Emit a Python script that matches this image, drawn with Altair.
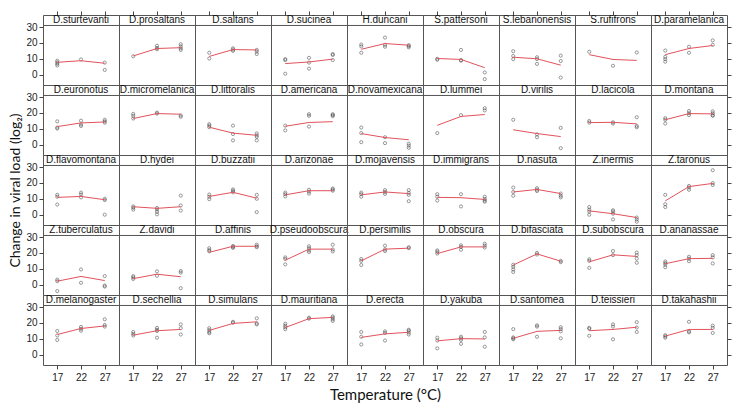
import altair as alt
import pandas as pd

species = ["D.sturtevanti", "D.prosaltans", "D.saltans", "D.sucinea", "H.duncani", "S.pattersoni", "S.lebanonensis", "S.rufifrons", "D.paramelanica",
           "D.euronotus", "D.micromelanica", "D.littoralis", "D.americana", "D.novamexicana", "D.lummei", "D.virilis", "D.lacicola", "D.montana",
           "D.flavomontana", "D.hydei", "D.buzzatii", "D.arizonae", "D.mojavensis", "D.immigrans", "D.nasuta", "Z.inermis", "Z.taronus",
           "Z.tuberculatus", "Z.davidi", "D.affinis", "D.pseudoobscura", "D.persimilis", "D.obscura", "D.bifasciata", "D.subobscura", "D.ananassae",
           "D.melanogaster", "D.sechellia", "D.simulans", "D.mauritiana", "D.erecta", "D.yakuba", "D.santomea", "D.teissieri", "D.takahashii"]

temps = [17, 22, 27]

pts17 = [
    [8.8, 7.8, 6.8, 5.8], [11.6], [13.8, 10.2], [9.8, 9.2, 0.6], [19, 17.8, 13.8], [10, 9.4], [14.8, 11.8, 9.8], [14.4], [15.2, 11.2, 9.8, 8.2],
    [14.7, 10.8, 10.2], [19.4, 18.2, 16.5], [12.9, 12, 11], [12, 9], [10.8, 7.3, 1.6], [7.3], [15.7], [14.9, 13.9], [16.7, 15.7, 13.3],
    [12.5, 11.3, 6.4], [5.2, 4.4, 3.2], [12.7, 11.3, 9.8], [13.9, 12.9, 11.5], [13.9, 12.9, 11.3], [12.9, 11.3, 8.9], [17.1, 14.3, 11.9], [4.8, 3.2, 2, 0], [12.5, 6.6, 4.8],
    [3.2, 2.2, -4], [5.4, 4.6, 3.6], [23, 21.8, 21], [17.2, 16.2, 12.8], [16.2, 15, 12.4], [21.6, 20.8, 19.6], [12.6, 11.2, 9.6, 8], [16, 15, 10.6], [14.6, 13.6, 12.6, 11],
    [14.9, 12.1, 9.3], [14.3, 13.1, 12.1], [16.7, 15.5, 14.3, 13.5], [19.5, 18.3, 17.3, 16.1], [14.3, 11.3, 6.4], [10.7, 8.9, 4], [16.1, 10.9, 10.3, 9.7], [16.9, 16.3, 11.9], [12.3, 11.5, 10.7],
]

pts22 = [
    [9.6], [18.2, 16.8, 16], [16.6, 15.8, 15], [10.6, 7.6, 3.8], [23.4, 18.8, 17.6], [15.6, 9.2, 8.8], [11, 9.8, 6.8], [5.6], [17.6, 13.8],
    [15.1, 12.7, 11.8], [20.2, 19.6], [12, 6.7, 2.7], [19.2, 18.2, 11.4], [4.7, 1], [18.6], [6.5, 4.7], [14.1, 13.3], [21.2, 19.8, 18.6],
    [13.9, 12.7, 10.9], [4.2, 3.2, 1.8, 0.2], [15.9, 15.1, 14.1], [15.7, 14.5, 13.3], [15.5, 14.3, 13.1], [12.9, 5.2], [16.7, 15.7, 14.9], [2.8, 2, 0.6, -3], [18.1, 17.1, 15.7],
    [9.6, 1.2], [8.4, 5.6], [24.4, 23.8, 23.2], [24.2, 23, 21.6, 20.6], [24.6, 22.2, 21.2], [24.8, 23.8, 22], [20, 19], [21.2, 18.6], [17.6, 16.4, 14.8],
    [17.5, 16.3, 15.1], [16.9, 15.7, 14.9, 10.7], [20.7, 20.1], [23.3, 22.7], [14.7, 13.7, 8.9], [11.3, 10.3, 9.3, 6.8], [18.5, 17.7, 11.3], [19.1, 17.7, 9.7], [20.7, 14.7, 14.1],
]

pts27 = [
    [7.6, 3], [19.2, 17.8, 16.6, 15.6], [15.6, 14.6, 13], [13, 12.4, 9.2], [18.6, 18, 17.2], [1.4, -2.8], [12, 8.6, -1.8], [14], [21.6, 18.8],
    [15.7, 14.7, 13.9], [18.4, 17.6], [7.1, 5.9, 4.9, 2.7], [19.2, 18.6, 18], [0.6, -0.6, -2], [23, 21.6], [10.6, -2.2], [17.3, 11.8, 11], [21, 19.8, 18.6, 18.2],
    [10, 9.2, 0], [12, 5.8, 2.6], [12.5, 10, 1.6], [16.5, 15.9, 15.1], [15.5, 13.7, 12.5, 8.5], [11.3, 9.9, 8.9, 8.2], [13.3, 11.9, 10.9], [-1.8, -3, -4.4], [28, 19.9, 18.7],
    [5.4, -0.6, -1.2], [8.6, 7.6, -2.2], [25.2, 24.2, 23.6], [25.2, 22.2, 21], [23.6, 23], [25.8, 24.6, 23.4], [15, 14.2], [20.2, 18.6, 16.4, 13.8], [18.6, 17.2, 13.4],
    [22.3, 18.7, 17.7], [19.1, 16.7, 12.7], [22.9, 19.7, 19.1], [24.1, 23.3, 22.3, 21.3], [15.7, 15.1, 13.9, 12.7], [14.3, 10.9, 5], [17.3, 16.1, 14.7, 10.3], [20.5, 17.1, 14.3], [18.3, 16.9, 13.7],
]

line17 = [7.8, 11.8, 11.5, 7, 16, 10.2, 11, 12.6, 12.6,
          11.4, 16.5, 11, 11.6, 7, 12.2, 9.4, 13.9, 15.7,
          10.9, 5, 11.5, 12.5, 12.5, 10.9, 14.3, 2.4, 8.7,
          2.2, 3.8, 20.4, 15.4, 15, 19.6, 12.4, 14.4, 13.2,
          12.7, 12.3, 15.3, 17.1, 10.9, 8.7, 10.3, 15.1, 11.7]
line22 = [8.8, 16.5, 15.8, 8, 19.6, 9.6, 10, 9.6, 16.5,
          13.7, 19.6, 7.3, 14, 4.5, 17.8, 7, 14.1, 19.6,
          11.5, 4, 14.1, 15.1, 14.3, 10.7, 15.9, 0.6, 17.7,
          5.2, 6.6, 24.2, 22.4, 22.4, 23.8, 19.4, 18.8, 16.4,
          16.5, 15.1, 19.7, 22.7, 13.1, 10.1, 14.7, 15.9, 15.9]
line27 = [7.2, 17, 15.6, 9.8, 18.6, 4.4, 6, 9, 18.4,
          14.3, 19.2, 5.9, 14.5, 3.1, 19, 5.1, 13.1, 19.4,
          9.4, 5, 10.4, 15.1, 13.3, 9.6, 13.3, -1.8, 19.7,
          2.6, 5, 24.2, 22.4, 23, 23.8, 14.8, 17.8, 16.6,
          18.1, 15.9, 20.7, 23.5, 14.1, 9.9, 15.3, 17.3, 15.9]

y_ticks = [0, 10, 20, 30]
y_lo, y_plot_top, y_hi = -6.5, 31, 37.6  # plot range + strip band
x_lo, x_hi = 14, 30
NCOL, NROW = 9, 5
PW, PH = 76, 70

rows = []
for i, sp in enumerate(species):
    for t, pts in zip(temps, (pts17, pts22, pts27)):
        for v in pts[i]:
            rows.append({"species": sp, "temp": t, "value": v, "kind": "point"})
    for t, lv in zip(temps, (line17, line22, line27)):
        rows.append({"species": sp, "temp": t, "value": lv[i], "kind": "line"})
df = pd.DataFrame(rows)

xs = alt.Scale(domain=[x_lo, x_hi], nice=False, zero=False)
ys = alt.Scale(domain=[y_lo, y_hi], nice=False, zero=False)

X_TITLE = "Temperature (°C)"
Y_TITLE = "Change in viral load (log₂)"


def x_axis(r, c):
    if r == NROW - 1:
        if c == NCOL // 2:
            return alt.Axis(values=temps, grid=False, domain=False, tickSize=4, labelFontSize=10,
                            labelPadding=3, labelOverlap=False, labelFlush=False, title=X_TITLE,
                            titleFont="Lato", titleFontSize=15, titleFontWeight="normal",
                            titlePadding=5)
        return alt.Axis(values=temps, grid=False, domain=False, tickSize=4, labelFontSize=10,
                        labelPadding=3, labelOverlap=False, labelFlush=False, title=None)
    if r == 0:
        return alt.Axis(orient="top", values=temps, grid=False, domain=False, tickSize=4,
                        labels=False, title=None)
    return None


def y_axis(r, c):
    if c == 0:
        if r == NROW // 2:
            return alt.Axis(values=y_ticks, grid=False, domain=False, tickSize=4, labelFontSize=10,
                            labelPadding=2, labelOverlap=False, labelFlush=False, title=Y_TITLE,
                            titleFont="Lato", titleFontSize=14, titleFontWeight="normal",
                            titlePadding=3)
        return alt.Axis(values=y_ticks, grid=False, domain=False, tickSize=4, labelFontSize=10,
                        labelPadding=2, labelOverlap=False, labelFlush=False, title=None)
    if c == NCOL - 1:
        return alt.Axis(orient="right", values=y_ticks, grid=False, domain=False, tickSize=4,
                        labels=False, title=None)
    return None


def panel(i):
    sp = species[i]
    r, c = divmod(i, NCOL)
    xa, ya = x_axis(r, c), y_axis(r, c)
    xe = alt.X("temp:Q", scale=xs, axis=xa)
    ye = alt.Y("value:Q", scale=ys, axis=ya)
    base = alt.Chart(df).transform_filter(alt.datum.species == sp)
    pts = base.transform_filter(alt.datum.kind == "point").mark_point(
        shape="circle", filled=False, size=10, strokeWidth=0.7, color="#333333"
    ).encode(x=xe, y=ye)
    ln = base.transform_filter(alt.datum.kind == "line").mark_line(
        color="#e2525c", strokeWidth=1).encode(x=xe, y=ye, order="temp:Q")
    first = base.transform_filter((alt.datum.kind == "line") & (alt.datum.temp == 17))
    rule = first.mark_rule(color="#555555", strokeWidth=1).encode(
        x=alt.XDatum(x_lo, axis=xa), x2=alt.X2Datum(x_hi),
        y=alt.YDatum(y_plot_top, axis=ya))
    txt = first.mark_text(font="Liberation Sans", fontSize=10, color="#111111",
                          baseline="middle").encode(
        x=alt.XDatum((x_lo + x_hi) / 2, axis=xa),
        y=alt.YDatum((y_plot_top + y_hi) / 2, axis=ya),
        text="species:N")
    return alt.layer(pts, ln, rule, txt).properties(width=PW, height=PH)


chart = alt.concat(*[panel(i) for i in range(len(species))], columns=NCOL,
                   spacing=0, bounds="flush").properties(
    padding={"left": 0, "top": 2, "right": 2, "bottom": 0}
).configure_view(
    stroke="#555555", strokeWidth=1
).configure_axis(
    labelFont="Liberation Sans", labelColor="#222222", tickColor="#444444",
    titleColor="#111111", labelOverlap=False
)

chart.save("out.html", embed_options={"renderer": "svg", "actions": False})
